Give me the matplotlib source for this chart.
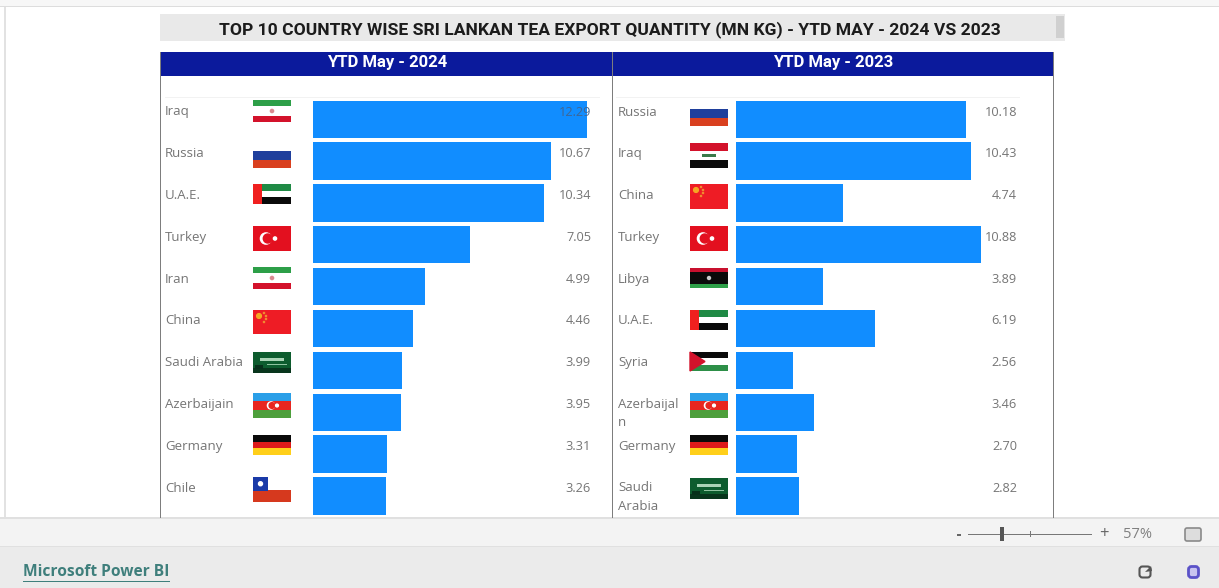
import matplotlib
matplotlib.use("Agg")
import matplotlib.pyplot as plt
from matplotlib.patches import Rectangle, Polygon, Circle, FancyBboxPatch

W, H = 1219, 588
countries_2024 = ["Iraq", "Russia", "U.A.E.", "Turkey", "Iran", "China", "Saudi Arabia", "Azerbaijain", "Germany", "Chile"]
values_2024 = [12.29, 10.67, 10.34, 7.05, 4.99, 4.46, 3.99, 3.95, 3.31, 3.26]
countries_2023 = ["Russia", "Iraq", "China", "Turkey", "Libya", "U.A.E.", "Syria", "Azerbaijal\nn", "Germany", "Saudi\nArabia"]
values_2023 = [10.18, 10.43, 4.74, 10.88, 3.89, 6.19, 2.56, 3.46, 2.70, 2.82]
flags_2024 = ["iran", "russia", "uae", "turkey", "iran", "china", "saudi", "azer", "germany", "chile"]
flags_2023 = ["russia", "iraq", "china", "turkey", "libya", "uae", "syria", "azer", "germany", "saudi"]
title = "TOP 10 COUNTRY WISE SRI LANKAN TEA EXPORT QUANTITY (MN KG) - YTD MAY - 2024 VS 2023"

FONT = "Open Sans"
TXT = "#757575"
BAR = "#118dff"
fig = plt.figure(figsize=(W / 100, H / 100), dpi=100, facecolor="white")
bg = fig.add_axes([0, 0, 1, 1], zorder=0)
bg.set_xlim(0, W); bg.set_ylim(H, 0); bg.axis("off")

def rect(ax, x0, y0, x1, y1, color, z=1):
    ax.add_patch(Rectangle((x0, y0), x1 - x0, y1 - y0, facecolor=color, edgecolor="none", zorder=z))

# page chrome
rect(bg, 0, 0, W, 5.5, "#f7f7f7")
rect(bg, 0, 5.5, W, 7, "#dddddd")
rect(bg, 4, 7, 5.5, 588, "#e2e2e2")
rect(bg, 0, 518, W, 546, "#f3f3f3")
rect(bg, 0, 517, W, 518.5, "#e0e0e0")
rect(bg, 0, 546, W, 588, "#ebebeb")
rect(bg, 0, 545.5, W, 547, "#e0e0e0")

# title and headers
rect(bg, 160, 14, 1065, 41, "#e9e9e9")
rect(bg, 1056, 16, 1064, 38, "#d0d0d0", 2)
bg.text(610, 30, title, ha="center", va="center", fontsize=12.6, fontweight="bold", family="Roboto", color="#1c1c1c")
rect(bg, 160, 52, 1053.5, 75.5, "#0b1a9c", 2)
bg.text(387, 63, "YTD May - 2024", ha="center", va="center", fontsize=12, fontweight="bold", family="Roboto", color="white", zorder=3)
bg.text(833, 63, "YTD May - 2023", ha="center", va="center", fontsize=12, fontweight="bold", family="Roboto", color="white", zorder=3)
for x0, x1 in [(160, 161.2), (612, 613.2), (1053, 1054.2)]:
    rect(bg, x0, 52, x1, 518, "#7d7d7d", 3)
rect(bg, 165, 97, 600, 98, "#f2f2f2")
rect(bg, 616, 97, 1020, 98, "#f2f2f2")

def flag(kind, x, y0, y1):
    w = 38
    h = y1 - y0
    def full(colors):
        n = len(colors)
        for i, c in enumerate(colors):
            rect(bg, x, y0 + i * h / n, x + w, y0 + (i + 1) * h / n, c, 4)
    if kind == "iran":
        rect(bg, x, y0, x + w, y0 + h * .27, "#2d9f48", 4)
        rect(bg, x, y0 + h * .73, x + w, y1, "#d3122b", 4)
        bg.add_patch(Circle((x + w / 2, y0 + h / 2), 1.6, color="#d98a90", zorder=5))
    elif kind == "russia":
        full(["#1f3f9c", "#d9401f"])
    elif kind == "uae":
        full(["#1f8a45", "#ffffff", "#0a0a0a"])
        rect(bg, x, y0, x + 9, y1, "#f0201f", 5)
    elif kind == "turkey":
        rect(bg, x, y0, x + w, y1, "#e3101f", 4)
        cx, cy = x + 13, (y0 + y1) / 2
        bg.add_patch(Circle((cx, cy), 5.6, color="white", zorder=5))
        bg.add_patch(Circle((cx + 1.8, cy), 4.5, color="#e3101f", zorder=6))
        bg.add_patch(Circle((cx + 9, cy), 1.6, color="white", zorder=6))
    elif kind == "china":
        rect(bg, x, y0, x + w, y1, "#ee1c25", 4)
        bg.add_patch(Circle((x + 6, y0 + 6), 2.4, color="#f5a623", zorder=5))
        for dx, dy in [(11, 3), (13, 6), (13, 9), (11, 12)]:
            bg.add_patch(Circle((x + dx, y0 + dy), .6, color="#f08a30", zorder=5))
    elif kind == "saudi":
        rect(bg, x, y0, x + w, y1, "#0d5c2e", 4)
        rect(bg, x, y0 + h * .75, x + w, y1, "#08351c", 4)
        rect(bg, x + 7, y0 + h * .3, x + 31, y0 + h * .42, "#a9d3b5", 5)
        rect(bg, x + 14, y0 + h * .55, x + 34, y0 + h * .62, "#8fc3a0", 5)
        rect(bg, x + 2, y0 + h * .6, x + 10, y0 + h * .8, "#06301a", 5)
    elif kind == "azer":
        full(["#2a9fe8", "#e8261f", "#4d9f3c"])
        cx, cy = x + 18, (y0 + y1) / 2
        bg.add_patch(Circle((cx, cy), 3.6, color="white", zorder=5))
        bg.add_patch(Circle((cx + 1, cy), 2.9, color="#e8261f", zorder=6))
        bg.add_patch(Circle((cx + 6, cy), 1.4, color="white", zorder=6))
    elif kind == "germany":
        full(["#0a0a0a", "#dd1a1a", "#ffcf1a"])
    elif kind == "chile":
        rect(bg, x, y0 + h / 2, x + w, y1, "#d6391e", 4)
        rect(bg, x, y0, x + 15, y0 + h / 2 + 1, "#1a3aa8", 5)
        bg.add_patch(Circle((x + 7.5, y0 + h / 4 + .5), 2, color="white", zorder=6))
    elif kind == "iraq":
        full(["#d3122b", "#ffffff", "#0a0a0a"])
        rect(bg, x + 12, y0 + h * .45, x + 26, y0 + h * .55, "#3a7a4a", 5)
    elif kind == "libya":
        full(["#c8102e", "#0a0a0a", "#2d9f48"])
        rect(bg, x, y0 + h * .2, x + w, y0 + h * .8, "#0a0a0a", 5)
        bg.add_patch(Circle((x + 19, (y0 + y1) / 2), 1.5, color="#cccccc", zorder=6))
    elif kind == "syria":
        full(["#0a0a0a", "#ffffff", "#2d8f48"])
        bg.add_patch(Polygon([(x, y0), (x + 15, (y0 + y1) / 2), (x, y1)], color="#d3122b", zorder=5))

ROW = 41.9
LABEL_ROW = 41.8
def panel(x_bar, x_label, x_flag, x_value, px_per_unit, names, values, flags, spans):
    right = x_bar + 310
    top, bottom = 100.5, 100.5 + ROW * 9.5 + 18
    ax = fig.add_axes([x_bar / W, 1 - bottom / H, (right - x_bar) / W, (bottom - top) / H], zorder=1)
    ax.patch.set_alpha(0)
    ax.set_xlim(0, (right - x_bar) / px_per_unit)
    # one y unit = one row; the first bar's centre is 18.5 px below the axes top
    ax.set_ylim((bottom - top - 18.5) / ROW, -18.5 / ROW)
    ax.axis("off")
    ax.barh(range(len(values)), values, height=37.5 / ROW, color=BAR)
    for i, (n, v, f) in enumerate(zip(names, values, flags)):
        y = 112 + i * LABEL_ROW
        if "\n" in n:
            bg.text(x_label, y - 7, n, ha="left", va="top", fontsize=9.5, family=FONT, color=TXT, linespacing=1.55, zorder=3)
        else:
            bg.text(x_label, y, n, ha="left", va="center", fontsize=9.5, family=FONT, color=TXT, zorder=3)
        val_color = "#3f6694" if v > 12 else TXT
        fig.text(x_value / W, 1 - y / H, f"{v:.2f}", ha="right", va="center", fontsize=9.2, family=FONT, color=val_color, zorder=5)
        flag(f, x_flag, *spans[i])

panel(313.5, 165, 253, 591, 22.25, countries_2024, values_2024, flags_2024,
      [(100, 122), (151, 168), (184, 204), (226, 251), (267, 289), (310, 334), (352, 373), (393, 418), (435, 455), (477, 502)])
panel(735.5, 618, 690, 1017, 22.6, countries_2023, values_2023, flags_2023,
      [(109, 126), (143, 168), (184, 209), (226, 251), (268, 288), (310, 330), (352, 371), (393, 418), (435, 455), (478, 499)])

# footer
bg.text(23, 572, "Microsoft Power BI", ha="left", va="center", fontsize=11.2, fontweight="bold", family=FONT, color="#3f7f7c", zorder=3)
rect(bg, 23, 580.5, 170, 581.5, "#3f7f7c", 3)
rect(bg, 957, 534, 961, 535.5, "#666666", 3)
rect(bg, 968, 533.7, 1092, 534.7, "#777777", 3)
rect(bg, 999.5, 527, 1004, 541, "#555555", 4)
rect(bg, 1030, 531, 1031, 537, "#777777", 4)
bg.text(1104, 534, "+", ha="center", va="center", fontsize=12, color="#666666", family=FONT, zorder=3)
bg.text(1138, 534, "57%", ha="center", va="center", fontsize=10.5, color="#808080", family=FONT, zorder=3)
bg.add_patch(FancyBboxPatch((1186, 529), 14, 11, boxstyle="round,pad=1,rounding_size=2", facecolor="#dddddd", edgecolor="#8a8a8a", lw=1.2, zorder=3))
bg.add_patch(FancyBboxPatch((1140, 567), 10, 10, boxstyle="round,pad=0.5,rounding_size=3", facecolor="none", edgecolor="#555555", lw=1.5, zorder=3))
bg.add_patch(Polygon([(1145, 572), (1151, 566), (1152, 571)], closed=True, facecolor="#555555", edgecolor="none", zorder=4))
bg.add_patch(FancyBboxPatch((1189, 567), 9, 10, boxstyle="round,pad=0.5,rounding_size=3", facecolor="#c9c4ef", edgecolor="#5b52c8", lw=2, zorder=3))

fig.savefig("out.png", dpi=100, facecolor="white")
